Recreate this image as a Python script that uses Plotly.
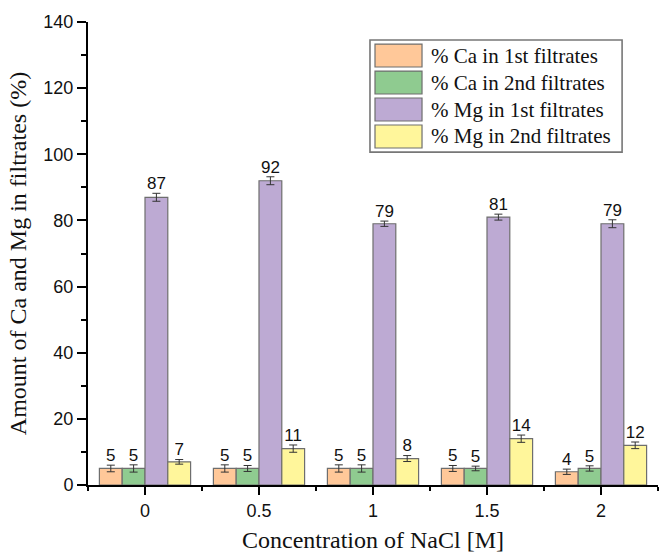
import plotly.graph_objects as go

categories = ["0", "0.5", "1", "1.5", "2"]
series_names = ["% Ca in 1st filtrates", "% Ca in 2nd filtrates",
                "% Mg in 1st filtrates", "% Mg in 2nd filtrates"]
ca_1st = [5, 5, 5, 5, 4]
ca_2nd = [5, 5, 5, 5, 5]
mg_1st = [87, 92, 79, 81, 79]
mg_2nd = [7, 11, 8, 14, 12]
ca_1st_err = [1.0, 1.1, 1.1, 0.9, 0.8]
ca_2nd_err = [1.1, 0.9, 1.1, 0.7, 0.8]
mg_1st_err = [1.2, 1.2, 0.8, 0.9, 1.2]
mg_2nd_err = [0.7, 1.1, 0.9, 1.1, 1.0]
colors = ["#FFC899", "#8FCB90", "#BDAAD3", "#FFF69B"]

values = [ca_1st, ca_2nd, mg_1st, mg_2nd]
errors = [ca_1st_err, ca_2nd_err, mg_1st_err, mg_2nd_err]
xpos = list(range(len(categories)))

SERIF = "Liberation Serif, Times New Roman, serif"
SANS = "Liberation Sans, Arial, sans-serif"

fig = go.Figure()
for i, (name, vals, errs, col) in enumerate(zip(series_names, values, errors, colors)):
    fig.add_trace(go.Bar(
        x=xpos, y=vals, name=name, offsetgroup=str(i), showlegend=False,
        marker=dict(color=col, line=dict(color="#6E6E6E", width=1.2)),
        error_y=dict(type="data", array=errs, visible=True, color="#333333",
                     thickness=1, width=4),
    ))
for i, (vals, errs) in enumerate(zip(values, errors)):
    fig.add_trace(go.Scatter(
        x=xpos, y=[v + e for v, e in zip(vals, errs)], mode="text",
        text=[str(v) for v in vals], textposition="top center",
        textfont=dict(family=SANS, size=17, color="#111111"),
        offsetgroup=str(i), showlegend=False, hoverinfo="skip", cliponaxis=False,
    ))

# legend drawn as a boxed key in paper coordinates (large swatches as in the original)
leg_x0, leg_x1, leg_y0, leg_y1 = 0.4947, 0.937, 0.719, 0.961
sw_x0, sw_x1, txt_x = 0.5035, 0.586, 0.598
row_top, row_step, sw_half = 0.9276, 0.0583, 0.0248
shapes = [dict(type="rect", xref="paper", yref="paper", x0=leg_x0, x1=leg_x1,
               y0=leg_y0, y1=leg_y1, line=dict(color="#777777", width=1.6),
               fillcolor="white", layer="above")]
annotations = []
for i, (name, col) in enumerate(zip(series_names, colors)):
    yc = row_top - i * row_step
    shapes.append(dict(type="rect", xref="paper", yref="paper", x0=sw_x0, x1=sw_x1,
                       y0=yc - sw_half, y1=yc + sw_half,
                       line=dict(color="#6E6E6E", width=1.2), fillcolor=col, layer="above"))
    annotations.append(dict(xref="paper", yref="paper", x=txt_x, y=yc, text=name,
                            showarrow=False, xanchor="left", yanchor="middle",
                            font=dict(family=SERIF, size=21, color="#111111")))

fig.update_layout(
    width=662, height=555,
    margin=dict(l=88, r=4, t=22, b=70),
    plot_bgcolor="white", paper_bgcolor="white",
    barmode="group", bargap=0.2, bargroupgap=0,
    scattermode="group", scattergap=0.2,
    showlegend=False,
    shapes=shapes, annotations=annotations,
    xaxis=dict(
        range=[-0.5, 4.5], tickmode="array", tickvals=xpos, ticktext=categories,
        showline=True, linecolor="black", linewidth=2,
        ticks="outside", ticklen=8, tickwidth=2, tickcolor="black",
        minor=dict(tickmode="array", tickvals=[x - 0.5 for x in xpos] + [xpos[-1] + 0.5],
                   ticks="outside", ticklen=4, tickwidth=2, tickcolor="black"),
        showgrid=False, zeroline=False, automargin=False,
        tickfont=dict(family=SANS, size=18, color="#111111"),
        title=dict(text="Concentration of NaCl [M]",
                   font=dict(family=SERIF, size=24, color="#111111"),
                   standoff=12),
    ),
    yaxis=dict(
        range=[0, 140], dtick=20, tick0=0,
        showline=True, linecolor="black", linewidth=2,
        ticks="outside", ticklen=9, tickwidth=2, tickcolor="black",
        minor=dict(dtick=10, ticks="outside", ticklen=5, tickwidth=2, tickcolor="black"),
        showgrid=False, zeroline=False, automargin=False,
        tickfont=dict(family=SANS, size=18, color="#111111"),
        title=dict(text="Amount of Ca and Mg in filtrates (%)",
                   font=dict(family=SERIF, size=24, color="#111111"),
                   standoff=10),
    ),
)

fig.write_html("out.html", config={"displayModeBar": False},
               post_script="document.body.style.margin='0px';")
